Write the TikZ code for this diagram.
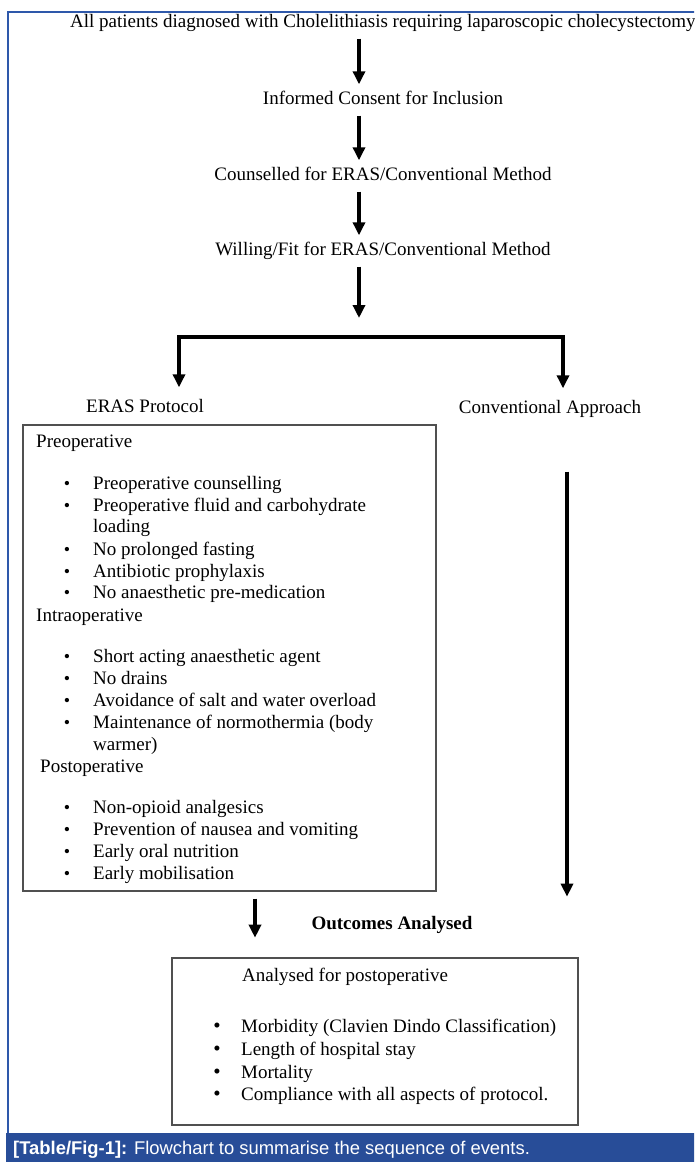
\documentclass[tikz,border=0pt]{standalone}
\usepackage{fontspec}
\setmainfont{Liberation Serif}
\newfontfamily\capfont{Liberation Sans}
\usetikzlibrary{arrows.meta,positioning}

\definecolor{frameblue}{RGB}{46,88,170}
\definecolor{barblue}{RGB}{40,77,152}
\definecolor{boxgray}{RGB}{80,80,80}

\tikzset{
  txt/.style={inner sep=0pt, text height=13pt, text depth=4pt,
              font=\fontsize{19}{22}\selectfont},
  item/.style={txt, anchor=west},
  bul/.style={txt, font=\fontsize{18}{22}\selectfont},
  flow/.style={line width=3.6pt, -{Triangle[width=12pt,length=13pt]}},
  bar/.style={line width=3.6pt, line cap=rect},
  panel/.style={draw=boxgray, line width=1.3pt, inner sep=0pt}
}

\begin{document}
\begin{tikzpicture}[x=1pt, y=-1pt]
\useasboundingbox (0,0) rectangle (694,1162);
\clip (0,0) rectangle (694,1162);

% frame and caption
\draw[frameblue, line width=2pt] (7.5,1140) -- (7.5,12) -- (700,12);
\fill[barblue] (6,1133) rectangle (700,1162);
\node[item, text=white, font=\capfont\fontsize{18.4}{22}\selectfont] (cap) at (13,1150)
    {\textbf{[Table/Fig-1]:} Flowchart to summarise the sequence of events.};

% level 0
\coordinate (spine) at (359,0);
\node[item] (all) at (70,23)
    {All patients diagnosed with Cholelithiasis requiring laparoscopic cholecystectomy};
\node[txt] (consent) at (383,100) {Informed Consent for Inclusion};
\node[txt] (counsel) at (383,176) {Counselled for ERAS/Conventional Method};
\node[txt] (willing) at (383,251) {Willing/Fit for ERAS/Conventional Method};

\draw[flow, shorten <=7pt, shorten >=7pt] (all.south -| spine) -- (consent.north -| spine);
\draw[flow, shorten <=7pt, shorten >=7pt] (consent.south -| spine) -- (counsel.north -| spine);
\draw[flow, shorten <=7pt, shorten >=7pt] (counsel.south -| spine) -- (willing.north -| spine);

% level 1
\coordinate (brL) at (179,337);
\coordinate (brR) at (563,337);
\coordinate (cv) at (567,0);
\node[txt] (eras) at (145,408) {ERAS Protocol};
\node[txt] (conv) at (550,409) {Conventional Approach};

\draw[flow, shorten <=7pt] (willing.south -| spine) -- ([yshift=19pt]brL -| spine);
\draw[bar] (brL) -- (brR);
\draw[flow, shorten >=12pt] (brL) -- (eras.north -| brL);
\draw[flow, shorten >=12pt] (brR) -- (conv.north -| brR);

% ERAS box
\node[panel, minimum width=413pt, minimum height=466pt] (box1) at (229.5,658) {};
\node[item] (pre) at (36,443) {Preoperative};
\node[item] (intra) at (36,617) {Intraoperative};
\node[item] (post) at (40,768) {Postoperative};
\foreach \yy/\txt [count=\i] in {485/{Preoperative counselling},
    507/{Preoperative fluid and carbohydrate}, 551/{No prolonged fasting},
    573/{Antibiotic prophylaxis}, 594/{No anaesthetic pre-medication},
    658/{Short acting anaesthetic agent}, 680/{No drains},
    702/{Avoidance of salt and water overload},
    724/{Maintenance of normothermia (body},
    809/{Non-opioid analgesics}, 831/{Prevention of nausea and vomiting},
    853/{Early oral nutrition}, 875/{Early mobilisation}}{
  \node[bul] (dot\i) at (67,\yy) {\textbullet};
  \node[item] (itm\i) at (93,\yy) {\txt};
}
\node[item] (loading) at (93,528) {loading};
\node[item] (warmer) at (93,746) {warmer)};

% conventional arm
\draw[flow] ([yshift=-54pt]conv.south -| cv) -- ([yshift=-5pt]box1.south -| cv);

% outcomes
\coordinate (oa) at (255,0);
\node[txt, font=\fontsize{19}{22}\selectfont\bfseries] (outc) at (392,925) {Outcomes Analysed};
\draw[flow] ([yshift=-7pt]box1.south -| oa) -- ([yshift=-4pt]outc.south -| oa);

\node[panel, minimum width=406pt, minimum height=167pt] (box2) at (375,1041.5) {};
\node[item] (anl) at (242,977) {Analysed for postoperative};
\foreach \yy/\txt [count=\i] in {1028/{Morbidity (Clavien Dindo Classification)},
    1051/{Length of hospital stay}, 1074/{Mortality},
    1096/{Compliance with all aspects of protocol.}}{
  \node[bul, font=\fontsize{21}{22}\selectfont] (odot\i) at (217,\yy) {\textbullet};
  \node[item] (out\i) at (241,\yy) {\txt};
}
\end{tikzpicture}
\end{document}
